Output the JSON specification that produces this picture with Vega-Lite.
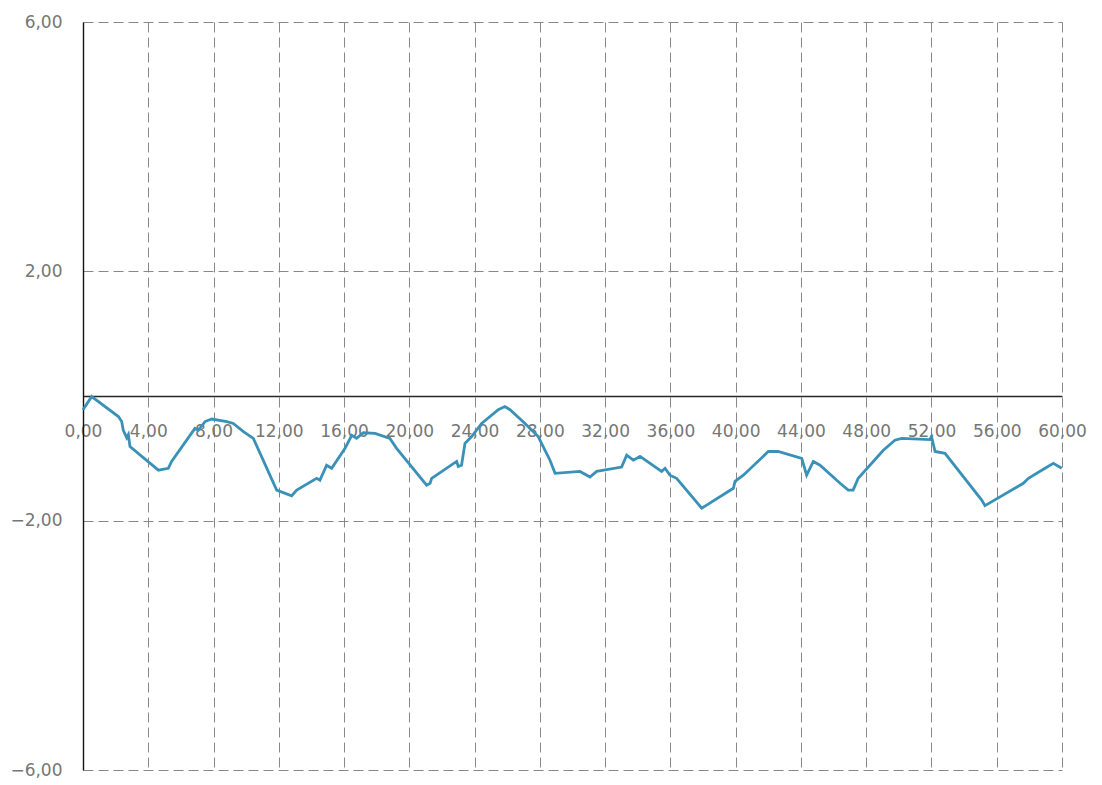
{
  "$schema": "https://vega.github.io/schema/vega-lite/v6.json",
  "width": 979,
  "height": 748,
  "autosize": "none",
  "padding": {"left": 83, "top": 22, "right": 40, "bottom": 15},
  "background": "white",
  "config": {"view": {"stroke": null}, "font": "DejaVu Sans"},
  "data": {"values": [
    {"t": 0.0, "v": -0.22}, {"t": 0.53, "v": -0.01}, {"t": 2.17, "v": -0.33}, {"t": 2.37, "v": -0.41},
    {"t": 2.47, "v": -0.55}, {"t": 2.68, "v": -0.67}, {"t": 2.78, "v": -0.62}, {"t": 2.88, "v": -0.81},
    {"t": 4.62, "v": -1.19}, {"t": 5.23, "v": -1.16}, {"t": 5.43, "v": -1.05}, {"t": 6.86, "v": -0.52},
    {"t": 7.07, "v": -0.55}, {"t": 7.48, "v": -0.41}, {"t": 7.89, "v": -0.37}, {"t": 8.81, "v": -0.41},
    {"t": 9.21, "v": -0.44}, {"t": 9.83, "v": -0.57}, {"t": 10.44, "v": -0.68}, {"t": 11.87, "v": -1.51},
    {"t": 12.07, "v": -1.53}, {"t": 12.79, "v": -1.6}, {"t": 13.1, "v": -1.51}, {"t": 14.32, "v": -1.32},
    {"t": 14.52, "v": -1.35}, {"t": 14.93, "v": -1.11}, {"t": 15.24, "v": -1.16}, {"t": 16.06, "v": -0.84},
    {"t": 16.47, "v": -0.63}, {"t": 16.77, "v": -0.68}, {"t": 17.18, "v": -0.59}, {"t": 17.9, "v": -0.6},
    {"t": 18.81, "v": -0.68}, {"t": 19.22, "v": -0.84}, {"t": 21.06, "v": -1.43}, {"t": 21.27, "v": -1.4},
    {"t": 21.37, "v": -1.32}, {"t": 22.9, "v": -1.05}, {"t": 23.0, "v": -1.13}, {"t": 23.2, "v": -1.11},
    {"t": 23.41, "v": -0.76}, {"t": 23.82, "v": -0.65}, {"t": 24.43, "v": -0.44}, {"t": 25.45, "v": -0.22},
    {"t": 25.86, "v": -0.17}, {"t": 26.17, "v": -0.22}, {"t": 27.09, "v": -0.44}, {"t": 27.9, "v": -0.65},
    {"t": 28.31, "v": -0.87}, {"t": 28.62, "v": -1.03}, {"t": 28.93, "v": -1.24}, {"t": 30.46, "v": -1.21},
    {"t": 31.07, "v": -1.3}, {"t": 31.48, "v": -1.21}, {"t": 33.01, "v": -1.14}, {"t": 33.32, "v": -0.95},
    {"t": 33.73, "v": -1.03}, {"t": 34.14, "v": -0.97}, {"t": 35.46, "v": -1.21}, {"t": 35.67, "v": -1.16},
    {"t": 35.97, "v": -1.27}, {"t": 36.38, "v": -1.32}, {"t": 37.92, "v": -1.8}, {"t": 38.22, "v": -1.75},
    {"t": 39.86, "v": -1.48}, {"t": 39.96, "v": -1.37}, {"t": 40.47, "v": -1.27}, {"t": 42.0, "v": -0.89},
    {"t": 42.6, "v": -0.89}, {"t": 44.05, "v": -1.0}, {"t": 44.35, "v": -1.27}, {"t": 44.76, "v": -1.05},
    {"t": 45.17, "v": -1.11}, {"t": 46.4, "v": -1.4}, {"t": 46.9, "v": -1.51}, {"t": 47.2, "v": -1.51},
    {"t": 47.51, "v": -1.32}, {"t": 49.05, "v": -0.87}, {"t": 49.76, "v": -0.71}, {"t": 50.17, "v": -0.68},
    {"t": 51.91, "v": -0.7}, {"t": 52.0, "v": -0.65}, {"t": 52.22, "v": -0.89}, {"t": 52.83, "v": -0.92},
    {"t": 55.08, "v": -1.67}, {"t": 55.28, "v": -1.76}, {"t": 57.63, "v": -1.4}, {"t": 57.94, "v": -1.32},
    {"t": 58.96, "v": -1.16}, {"t": 59.47, "v": -1.08}, {"t": 59.98, "v": -1.16}
  ]},
  "mark": {"type": "line", "color": "#3a91b8", "strokeWidth": 2.8},
  "encoding": {
    "x": {
      "field": "t", "type": "quantitative",
      "scale": {"domain": [0, 60], "nice": false, "zero": false},
      "axis": {
        "title": null, "orient": "bottom", "offset": -374,
        "values": [0, 4, 8, 12, 16, 20, 24, 28, 32, 36, 40, 44, 48, 52, 56, 60],
        "labelExpr": "replace(format(datum.value, '.2f'), '.', ',')",
        "domainColor": "#262626", "domainWidth": 1.6, "ticks": false,
        "labelPadding": 27, "labelFontSize": 17, "labelColor": "#767676",
        "labelFlush": false, "labelOverlap": false,
        "grid": true, "gridDash": [10, 5], "gridColor": "#888888", "gridWidth": 1
      }
    },
    "y": {
      "field": "v", "type": "quantitative",
      "scale": {"domain": [-6, 6], "nice": false, "zero": false},
      "axis": {
        "title": null,
        "values": [-6, -2, 2, 6],
        "labelExpr": "replace(format(datum.value, '.2f'), '.', ',')",
        "domainColor": "#111111", "domainWidth": 1.4, "ticks": false,
        "labelPadding": 21, "labelFontSize": 17, "labelColor": "#767676",
        "labelFlush": false, "labelOverlap": false,
        "grid": true, "gridDash": [10, 5], "gridColor": "#888888", "gridWidth": 1
      }
    }
  }
}
